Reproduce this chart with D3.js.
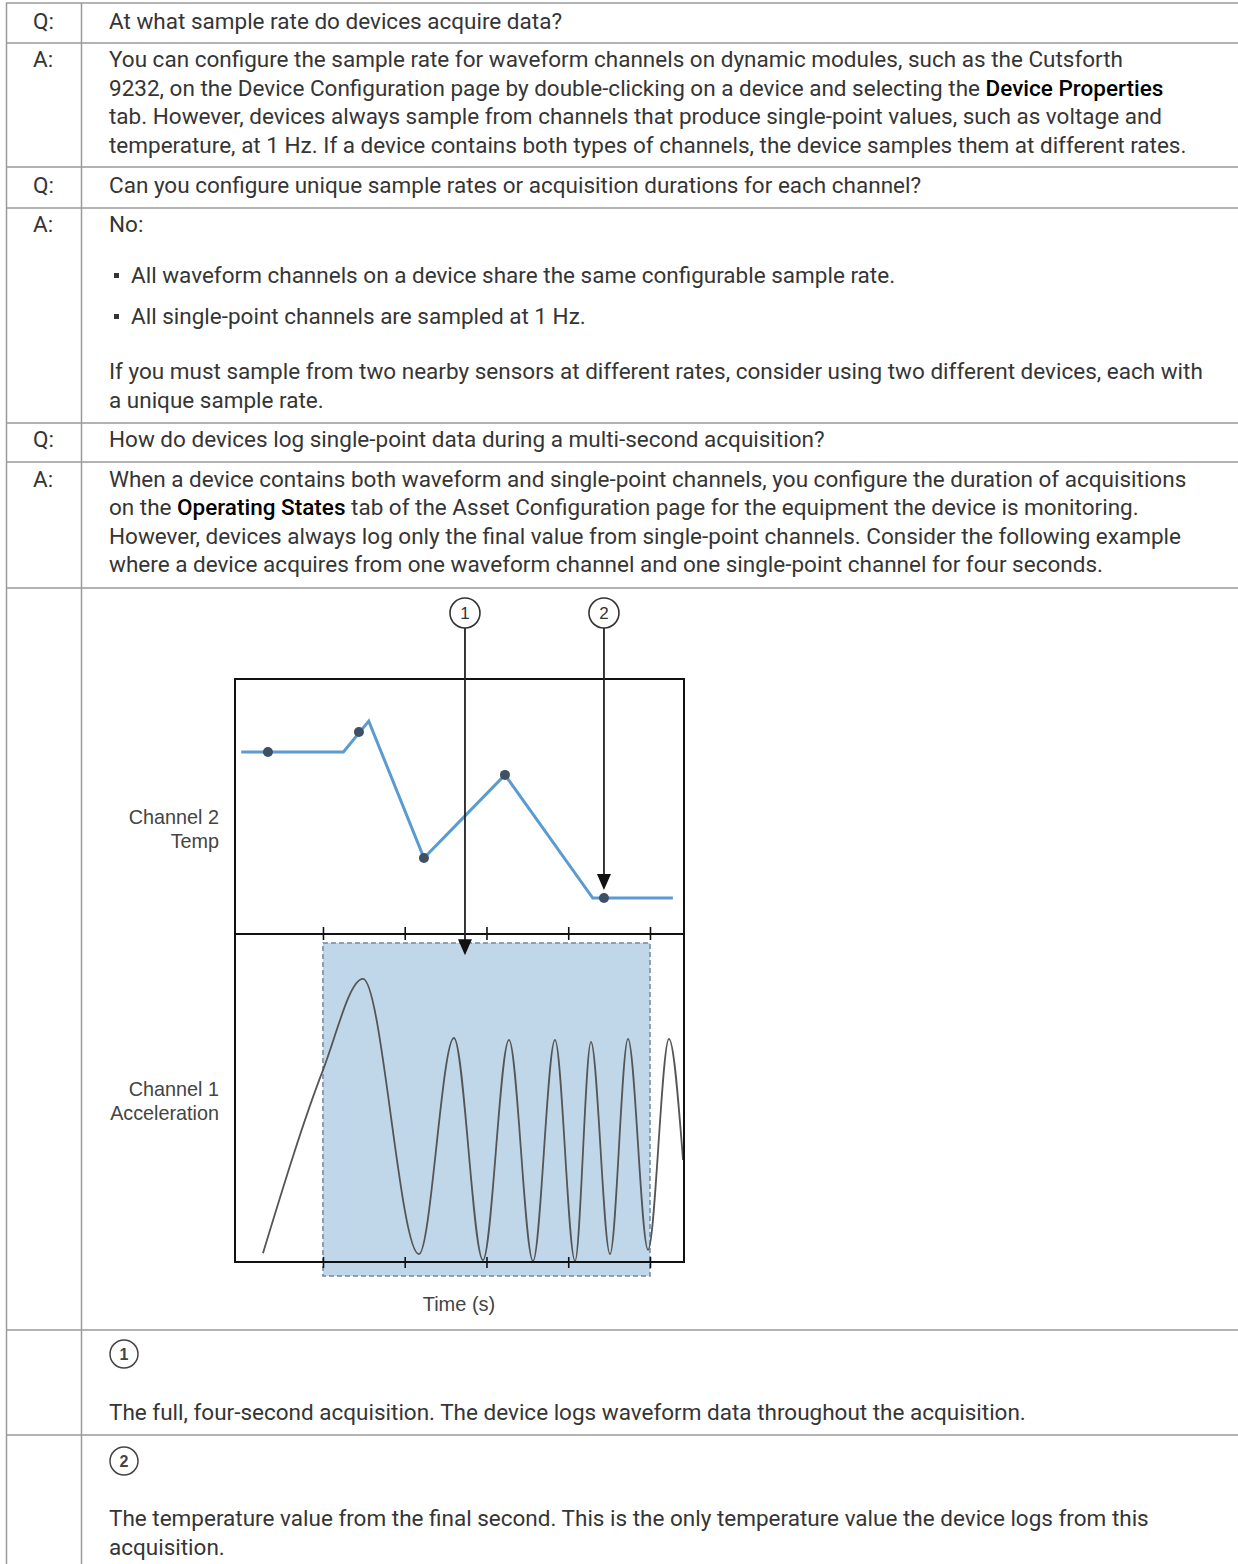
<!DOCTYPE html>
<html><head><meta charset="utf-8">
<script src="https://cdn.jsdelivr.net/npm/d3@7"></script>
<style>html,body{margin:0;padding:0;background:#fff}svg{display:block}</style>
</head><body>
<script>
// ---------- DATA ----------
const rowLines = [3, 43, 167, 208, 423, 462, 588, 1330, 1435];
const rowLabels = [
  {label: "Q:", y: 29},
  {label: "A:", y: 67},
  {label: "Q:", y: 193},
  {label: "A:", y: 232},
  {label: "Q:", y: 447},
  {label: "A:", y: 487}
];
const textLines = [
  {y: 29, parts: [["At what sample rate do devices acquire data?"]]},
  {y: 67, parts: [["You can configure the sample rate for waveform channels on dynamic modules, such as the Cutsforth"]]},
  {y: 96, parts: [["9232, on the Device Configuration page by double-clicking on a device and selecting the "], ["Device Properties", true]]},
  {y: 124, parts: [["tab. However, devices always sample from channels that produce single-point values, such as voltage and"]]},
  {y: 153, parts: [["temperature, at 1 Hz. If a device contains both types of channels, the device samples them at different rates."]]},
  {y: 193, parts: [["Can you configure unique sample rates or acquisition durations for each channel?"]]},
  {y: 232, parts: [["No:"]]},
  {y: 379, parts: [["If you must sample from two nearby sensors at different rates, consider using two different devices, each with"]]},
  {y: 408, parts: [["a unique sample rate."]]},
  {y: 447, parts: [["How do devices log single-point data during a multi-second acquisition?"]]},
  {y: 487, parts: [["When a device contains both waveform and single-point channels, you configure the duration of acquisitions"]]},
  {y: 515, parts: [["on the "], ["Operating States", true], [" tab of the Asset Configuration page for the equipment the device is monitoring."]]},
  {y: 544, parts: [["However, devices always log only the final value from single-point channels. Consider the following example"]]},
  {y: 572, parts: [["where a device acquires from one waveform channel and one single-point channel for four seconds."]]},
  {y: 1420, parts: [["The full, four-second acquisition. The device logs waveform data throughout the acquisition."]]},
  {y: 1526, parts: [["The temperature value from the final second. This is the only temperature value the device logs from this"]]},
  {y: 1555, parts: [["acquisition."]]}
];
const bullets = [
  {y: 283, text: "All waveform channels on a device share the same configurable sample rate."},
  {y: 324, text: "All single-point channels are sampled at 1 Hz."}
];
const calloutRows = [{n: "1", y: 1354}, {n: "2", y: 1461}];

// chart data: time in seconds, values in arbitrary 0..100 units
const timeTicks = [0, 1, 2, 3, 4];
const acquisition = [0, 4];
const tempTimes  = [-1.00, 0.25, 0.56, 1.235, 2.226, 3.30, 4.28];
const tempValues = [71.4, 71.4, 83.5, 29.8, 62.4, 14.1, 14.1];
const tempSampleTimes  = [-0.673, 0.44, 1.235, 2.226, 3.437];
const tempSampleValues = [71.4, 79.2, 29.8, 62.4, 14.1];
const accTimes  = [-0.734, 0.0, 0.489, 1.174, 1.602, 1.957, 2.275, 2.569, 2.838, 3.083, 3.278, 3.511, 3.731, 3.976, 4.232, 4.404];
const accValues = [2.7, 58.5, 86.3, 2.4, 68.3, 0.6, 67.7, 0.3, 67.7, 0.3, 67.1, 2.4, 68.0, 3.7, 68.0, 31.1];
const callouts = [
  {n: "1", t: 1.737, tipValue: 93.5, panel: "acc"},
  {n: "2", t: 3.437, tipValue: 14.1, panel: "temp"}
];
const panelLabels = [
  {lines: ["Channel 2", "Temp"], panel: "temp"},
  {lines: ["Channel 1", "Acceleration"], panel: "acc"}
];
const xLabel = "Time (s)";

// ---------- DRAW ----------
(function draw() {
const W = 1238, H = 1564;
const svg = d3.select("body").append("svg").attr("width", W).attr("height", H);

const bodyFont = "Roboto, 'Noto Sans', sans-serif";
const chartFont = "'Liberation Sans', Arial, sans-serif";
const fs = 22.5;
const textColor = "#353535";
const lineColor = "#9a9a9a";

const tbl = svg.append("g");
tbl.selectAll("line.h").data(rowLines).join("line")
  .attr("x1", 6).attr("x2", W).attr("y1", d => d).attr("y2", d => d)
  .attr("stroke", lineColor).attr("stroke-width", 1.5);
tbl.append("line").attr("x1", 6.5).attr("x2", 6.5).attr("y1", 3).attr("y2", H).attr("stroke", lineColor).attr("stroke-width", 1.5);
tbl.append("line").attr("x1", 81.5).attr("x2", 81.5).attr("y1", 3).attr("y2", H).attr("stroke", lineColor).attr("stroke-width", 1.5);

tbl.selectAll("text.lab").data(rowLabels).join("text")
  .attr("x", 33).attr("y", d => d.y)
  .attr("font-family", bodyFont).attr("font-size", fs).attr("fill", textColor)
  .text(d => d.label);

const tl = tbl.selectAll("text.body").data(textLines).join("text")
  .attr("x", 109).attr("y", d => d.y)
  .attr("font-family", bodyFont).attr("font-size", fs).attr("fill", textColor);
tl.selectAll("tspan").data(d => d.parts).join("tspan")
  .attr("fill", p => p[1] ? "#000" : textColor)
  .attr("font-weight", p => p[1] ? 500 : 400)
  .text(p => p[0]);

tbl.selectAll("rect.bullet").data(bullets).join("rect")
  .attr("x", 114).attr("y", d => d.y - 10).attr("width", 5).attr("height", 5).attr("fill", textColor);
tbl.selectAll("text.bt").data(bullets).join("text")
  .attr("x", 131).attr("y", d => d.y)
  .attr("font-family", bodyFont).attr("font-size", fs).attr("fill", textColor)
  .text(d => d.text);

const cr = tbl.selectAll("g.cr").data(calloutRows).join("g").attr("transform", d => `translate(124,${d.y})`);
cr.append("circle").attr("r", 14).attr("fill", "#fff").attr("stroke", "#444").attr("stroke-width", 1.5);
cr.append("text").attr("text-anchor", "middle").attr("dy", 6).attr("font-family", chartFont)
  .attr("font-size", 16).attr("font-weight", "bold").attr("fill", "#444").text(d => d.n);

// chart
const pLeft = 235, pRight = 684, pTop = 679, pMid = 934, pBottom = 1262;
const x = d3.scaleLinear().domain([-1.076, 4.416]).range([pLeft, pRight]);
const yT = d3.scaleLinear().domain([0, 100]).range([pMid, pTop]);
const yA = d3.scaleLinear().domain([0, 100]).range([pBottom, pMid]);

const chart = svg.append("g");
const defs = svg.append("defs");
defs.append("clipPath").attr("id", "accClip").append("rect")
  .attr("x", pLeft).attr("y", pMid).attr("width", pRight - pLeft).attr("height", pBottom - pMid);

chart.append("rect")
  .attr("x", x(acquisition[0])).attr("width", x(acquisition[1]) - x(acquisition[0]))
  .attr("y", pMid + 9).attr("height", pBottom + 14 - (pMid + 9))
  .attr("fill", "#c0d7ea").attr("stroke", "#6d87a0").attr("stroke-width", 1.5)
  .attr("stroke-dasharray", "5,3");

const accLine = d3.line().x((d, i) => x(accTimes[i])).y(d => yA(d)).curve(d3.curveMonotoneX);
chart.append("path").datum(accValues).attr("d", accLine)
  .attr("fill", "none").attr("stroke", "#555").attr("stroke-width", 1.8).attr("clip-path", "url(#accClip)");

chart.append("rect").attr("x", pLeft).attr("y", pTop).attr("width", pRight - pLeft).attr("height", pBottom - pTop)
  .attr("fill", "none").attr("stroke", "#111").attr("stroke-width", 2);
chart.append("line").attr("x1", pLeft).attr("x2", pRight).attr("y1", pMid).attr("y2", pMid).attr("stroke", "#111").attr("stroke-width", 2);

const tickAxis = d3.axisBottom(x).tickValues(timeTicks).tickSize(6).tickFormat("");
const ga = chart.append("g").attr("transform", `translate(0,${pMid})`).call(tickAxis);
ga.select(".domain").remove();
ga.selectAll(".tick line").attr("y1", -7).attr("y2", 6).attr("stroke", "#111").attr("stroke-width", 1.6);
const gb = chart.append("g").attr("transform", `translate(0,${pBottom})`).call(tickAxis);
gb.select(".domain").remove();
gb.selectAll(".tick line").attr("y1", -5).attr("y2", 6).attr("stroke", "#111").attr("stroke-width", 1.6);

const tempLine = d3.line().x((d, i) => x(tempTimes[i])).y(d => yT(d));
chart.append("path").datum(tempValues).attr("d", tempLine)
  .attr("fill", "none").attr("stroke", "#5b9bd0").attr("stroke-width", 3).attr("stroke-linejoin", "miter");
chart.selectAll("circle.s").data(tempSampleValues).join("circle")
  .attr("cx", (d, i) => x(tempSampleTimes[i])).attr("cy", d => yT(d)).attr("r", 5)
  .attr("fill", "#3e5064");

const cy0 = 613, cr0 = 15;
callouts.forEach(c => {
  const cx = x(c.t);
  const tipY = c.panel === "acc" ? yA(c.tipValue) : yT(c.tipValue) - 8;
  chart.append("line").attr("x1", cx).attr("x2", cx).attr("y1", cy0 + cr0).attr("y2", tipY - 10)
    .attr("stroke", "#222").attr("stroke-width", 1.8);
  chart.append("path").attr("d", `M${cx - 7},${tipY - 16}L${cx + 7},${tipY - 16}L${cx},${tipY}Z`).attr("fill", "#111");
  chart.append("circle").attr("cx", cx).attr("cy", cy0).attr("r", cr0).attr("fill", "#fff").attr("stroke", "#333").attr("stroke-width", 1.6);
  chart.append("text").attr("x", cx).attr("y", cy0 + 6).attr("text-anchor", "middle")
    .attr("font-family", chartFont).attr("font-size", 17).attr("fill", "#333").text(c.n);
});

const labY = {temp: 824, acc: 1096};
panelLabels.forEach(p => {
  const t = chart.append("text").attr("x", 219).attr("y", labY[p.panel]).attr("text-anchor", "end")
    .attr("font-family", chartFont).attr("font-size", 19.8).attr("fill", "#444");
  p.lines.forEach((l, i) => t.append("tspan").attr("x", 219).attr("dy", i ? 24 : 0).text(l));
});
chart.append("text").attr("x", 459).attr("y", 1311).attr("text-anchor", "middle")
  .attr("font-family", chartFont).attr("font-size", 20).attr("fill", "#444").text(xLabel);
})();
</script>
</body></html>
